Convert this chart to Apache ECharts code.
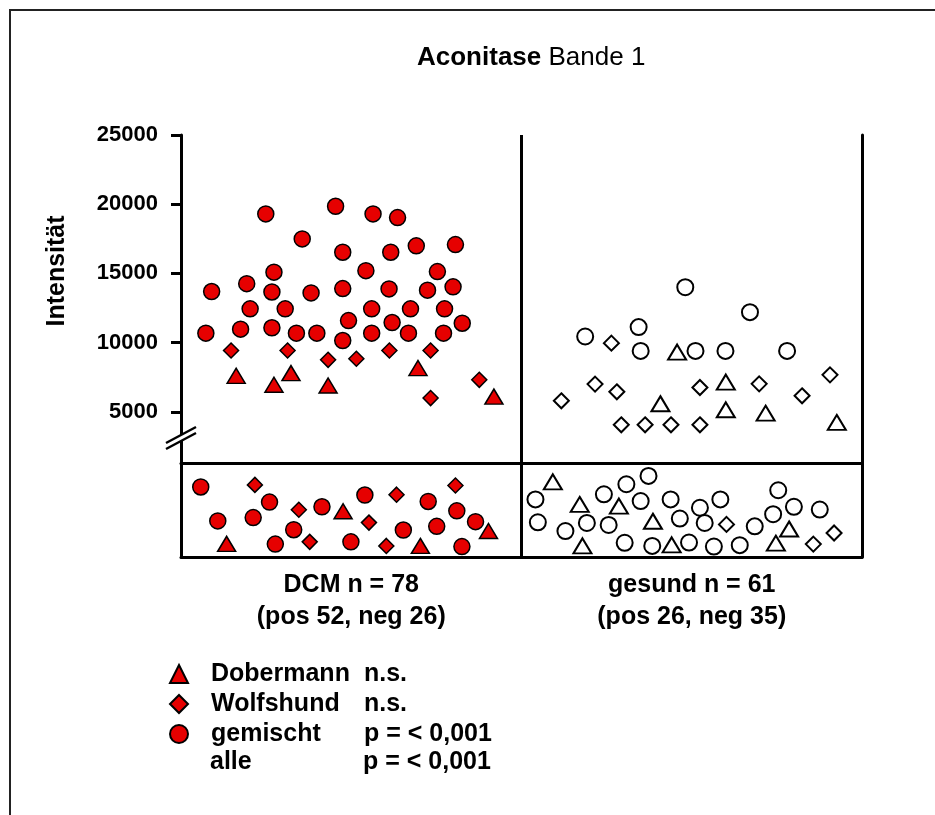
<!DOCTYPE html>
<html>
<head>
<meta charset="utf-8">
<script src="https://cdn.jsdelivr.net/npm/echarts@6/dist/echarts.min.js"></script>
<style>
html,body{margin:0;padding:0;background:#fff;}
#c{width:935px;height:815px;}
</style>
</head>
<body>
<div id="c"></div>
<script>
// ---------- data ----------
const groupCenters = [50, 150];
const categoryLabels = ['DCM n = 78', 'gesund n = 61'];
const categorySub = ['(pos 52, neg 26)', '(pos 26, neg 35)'];
const yTicks = [5000, 10000, 15000, 20000, 25000];
const legendNames = ['Dobermann', 'Wolfshund', 'gemischt'];
const legendStats = ['n.s.', 'n.s.', 'p = < 0,001'];
const allName = 'alle';
const allStat = 'p = < 0,001';

// DCM, positive (upper panel): [jitter position, intensity]
const dcmPosCircle = [[24.9,19300],[45.4,19850],[56.4,19300],[63.6,19030],[35.6,17490],[47.5,16530],[61.6,16530],[69.1,16990],[80.6,17080],[27.3,15090],[54.3,15200],[75.3,15130],[9.0,13690],[19.3,14260],[26.7,13660],[38.2,13590],[47.5,13900],[61.1,13880],[72.4,13790],[79.9,14030],[20.3,12440],[30.6,12440],[56.0,12440],[67.4,12440],[77.4,12440],[49.2,11590],[62.0,11450],[82.6,11400],[7.3,10680],[17.5,10970],[26.7,11070],[33.9,10680],[39.9,10680],[47.5,10150],[56.0,10680],[66.8,10680],[77.1,10680]];
const dcmPosDiamond = [[14.7,9430],[31.3,9430],[43.2,8755],[51.5,8830],[61.2,9430],[73.3,9430],[87.6,7310],[73.3,5990]];
const dcmPosTriangle = [[16.2,7600],[27.3,6950],[32.3,7795],[43.2,6900],[69.6,8160],[91.9,6100]];

// gesund, positive (upper panel)
const gesPosCircle = [[148.1,14000],[167.1,12200],[134.4,11120],[118.7,10440],[135.0,9400],[151.1,9400],[159.9,9400],[178.0,9400]];
const gesPosDiamond = [[126.4,9960],[121.6,7000],[128.0,6445],[111.7,5795],[152.4,6755],[169.8,7020],[182.4,6156],[190.6,7670],[129.3,4060],[136.3,4060],[143.9,4060],[152.4,4060]];
const gesPosTriangle = [[145.7,9310],[160.0,7145],[140.8,5580],[160.0,5145],[171.7,4900],[192.6,4230]];

// DCM, negative (lower panel, relative position 0-100)
const dcmNegCircle = [[5.8,74.5],[10.8,38.4],[21.2,41.9],[26.0,58.4],[27.7,13.7],[33.1,29.0],[41.4,53.4],[49.9,16.1],[54.0,65.9],[65.3,28.7],[72.6,59.1],[75.1,32.6],[81.0,49.1],[86.5,37.6],[82.5,11.1]];
const dcmNegDiamond = [[21.7,76.7],[34.6,50.2],[37.8,16.1],[55.2,36.6],[63.3,66.3],[60.3,11.8],[80.6,76.0]];
const dcmNegTriangle = [[13.4,14.0],[47.6,48.7],[70.3,11.8],[90.3,27.6]];

// gesund, negative (lower panel)
const gesNegCircle = [[104.1,61.3],[104.8,36.9],[112.9,27.6],[119.2,36.2],[124.2,66.7],[125.6,34.1],[130.3,15.1],[130.8,77.4],[135.0,59.5],[137.3,86.3],[138.4,11.8],[143.8,61.3],[146.5,40.9],[149.2,15.4],[152.4,52.4],[153.8,36.2],[156.5,11.1],[158.4,61.3],[164.1,12.6],[168.5,32.6],[173.9,45.5],[175.4,71.0],[180.0,53.4],[187.6,50.5]];
const gesNegDiamond = [[160.2,34.7],[185.7,13.7],[191.8,25.5]];
const gesNegTriangle = [[109.2,79.9],[117.1,55.9],[117.9,11.8],[128.6,54.1],[138.6,38.0],[144.1,12.9],[174.7,14.7],[178.6,29.8]];

// ---------- styles ----------
const FONT = "'Liberation Sans', Arial, sans-serif";
const RED = '#e60000';
const LW = 3;
const filled = {color: RED, borderColor: '#000', borderWidth: 1.5, opacity: 1};
const open = {color: '#fff', borderColor: '#000', borderWidth: 2, opacity: 1};
const sym = {circle: ['circle', 16], diamond: ['diamond', 15], triangle: ['triangle', [18, 15]]};

function sc(name, data, shape, style, idx, extra) {
  return Object.assign({
    type: 'scatter', name: name, data: data,
    xAxisIndex: idx, yAxisIndex: idx === 0 ? 0 : 2,
    symbol: sym[shape][0], symbolSize: sym[shape][1],
    itemStyle: style, silent: true, z: 3,
    emphasis: {disabled: true}
  }, extra || {});
}
const divider = {
  silent: true, symbol: ['none', 'none'], label: {show: false},
  lineStyle: {color: '#000', width: LW, type: 'solid'},
  emphasis: {disabled: true}, animation: false,
  data: [{xAxis: 100}]
};

const chart = echarts.init(document.getElementById('c'), null, {renderer: 'canvas'});
const legendMap = {};
legendNames.forEach((n, i) => legendMap[n] = legendStats[i]);

const txt = {fontFamily: FONT, fontSize: 25, fontWeight: 'bold', color: '#000', lineHeight: 30};

chart.setOption({
  animation: false,
  backgroundColor: '#fff',
  title: {
    text: '{b|Aconitase} {r|Bande 1}',
    left: 412, top: 40,
    textStyle: {
      fontFamily: FONT, fontSize: 26, color: '#000',
      rich: {
        b: {fontFamily: FONT, fontSize: 26, fontWeight: 'bold', color: '#000'},
        r: {fontFamily: FONT, fontSize: 26, fontWeight: 'normal', color: '#000'}
      }
    }
  },
  legend: {
    data: legendNames,
    orient: 'vertical',
    left: 164, top: 654,
    itemWidth: 18, itemHeight: 18,
    itemGap: 0,
    selectedMode: false,
    formatter: n => '{s|}{a|' + n + '}{b|' + legendMap[n] + '}',
    textStyle: Object.assign({}, txt, {
      rich: {
        s: Object.assign({}, txt, {width: 18}),
        a: Object.assign({}, txt, {width: 153}),
        b: Object.assign({}, txt)
      }
    })
  },
  grid: [
    {left: 181, right: 73, top: 135, height: 328},
    {left: 181, right: 73, top: 463, height: 94}
  ],
  xAxis: [
    {type: 'value', gridIndex: 0, min: 0, max: 200,
     axisLine: {show: true, onZero: false, lineStyle: {color: '#000', width: LW}},
     axisTick: {show: false}, axisLabel: {show: false}, splitLine: {show: false}},
    {type: 'value', gridIndex: 1, min: 0, max: 200,
     axisLine: {show: true, onZero: false, lineStyle: {color: '#000', width: LW}},
     axisTick: {show: false}, splitLine: {show: false},
     axisLabel: {
       show: true, customValues: groupCenters, margin: 12,
       formatter: v => {
         const i = groupCenters.indexOf(v);
         return '{t|' + categoryLabels[i] + '}\n{t|' + categorySub[i] + '}';
       },
       rich: {t: {fontFamily: FONT, fontSize: 25, fontWeight: 'bold', color: '#000', lineHeight: 32, align: 'center'}}
     }}
  ],
  yAxis: [
    {type: 'value', gridIndex: 0, min: 1300, max: 25000,
     axisLine: {show: true, onZero: false, lineStyle: {color: '#000', width: LW}},
     axisTick: {show: true, customValues: yTicks, length: 10, lineStyle: {color: '#000', width: LW}},
     axisLabel: {show: true, customValues: yTicks, margin: 23,
       formatter: v => String(v),
       fontFamily: FONT, fontSize: 22, fontWeight: 'bold', color: '#000'},
     splitLine: {show: false}},
    {type: 'value', gridIndex: 0, min: 1300, max: 25000, position: 'right',
     axisLine: {show: true, onZero: false, lineStyle: {color: '#000', width: LW}},
     axisTick: {show: false}, axisLabel: {show: false}, splitLine: {show: false}},
    {type: 'value', gridIndex: 1, min: 0, max: 100,
     axisLine: {show: true, onZero: false, lineStyle: {color: '#000', width: LW}},
     axisTick: {show: false}, axisLabel: {show: false}, splitLine: {show: false}},
    {type: 'value', gridIndex: 1, min: 0, max: 100, position: 'right',
     axisLine: {show: true, onZero: false, lineStyle: {color: '#000', width: LW}},
     axisTick: {show: false}, axisLabel: {show: false}, splitLine: {show: false}}
  ],
  series: [
    sc('Dobermann', dcmPosTriangle, 'triangle', filled, 0),
    sc('Wolfshund', dcmPosDiamond, 'diamond', filled, 0),
    sc('gemischt', dcmPosCircle, 'circle', filled, 0),
    sc('Dobermann', dcmNegTriangle, 'triangle', filled, 1),
    sc('Wolfshund', dcmNegDiamond, 'diamond', filled, 1),
    sc('gemischt', dcmNegCircle, 'circle', filled, 1),
    sc('gesund Dobermann', gesPosTriangle, 'triangle', open, 0),
    sc('gesund Wolfshund', gesPosDiamond, 'diamond', open, 0),
    sc('gesund gemischt', gesPosCircle, 'circle', open, 0, {markLine: divider}),
    sc('gesund Dobermann', gesNegTriangle, 'triangle', open, 1),
    sc('gesund Wolfshund', gesNegDiamond, 'diamond', open, 1),
    sc('gesund gemischt', gesNegCircle, 'circle', open, 1, {markLine: divider})
  ],
  graphic: [
    // outer frame (top and left edge)
    {type: 'polyline', shape: {points: [[10, 815], [10, 10], [935, 10]]},
     style: {stroke: '#222', lineWidth: 2, fill: null}, silent: true, z: 10},
    // y axis name
    {type: 'text', x: 57, y: 271, rotation: Math.PI / 2,
     style: {text: 'Intensität', fontFamily: FONT, fontSize: 25, fontWeight: 'bold',
             fill: '#000', align: 'center', verticalAlign: 'middle'}, silent: true, z: 10},
    // axis break
    {type: 'polygon', shape: {points: [[168, 442], [194, 428], [194, 434], [168, 448]]},
     style: {fill: '#fff', stroke: null}, silent: true, z: 20},
    {type: 'line', shape: {x1: 166, y1: 443, x2: 196, y2: 427},
     style: {stroke: '#000', lineWidth: 2.5}, silent: true, z: 21},
    {type: 'line', shape: {x1: 166, y1: 449, x2: 196, y2: 433},
     style: {stroke: '#000', lineWidth: 2.5}, silent: true, z: 21},
    // last legend row (no symbol)
    {type: 'text', x: 210, y: 762,
     style: {text: '{a|' + allName + '}{b|' + allStat + '}', verticalAlign: 'middle',
       rich: {
         a: {width: 153, fontFamily: FONT, fontSize: 25, fontWeight: 'bold', fill: '#000'},
         b: {fontFamily: FONT, fontSize: 25, fontWeight: 'bold', fill: '#000'}
       }}, silent: true, z: 10}
  ]
});
</script>
</body>
</html>
